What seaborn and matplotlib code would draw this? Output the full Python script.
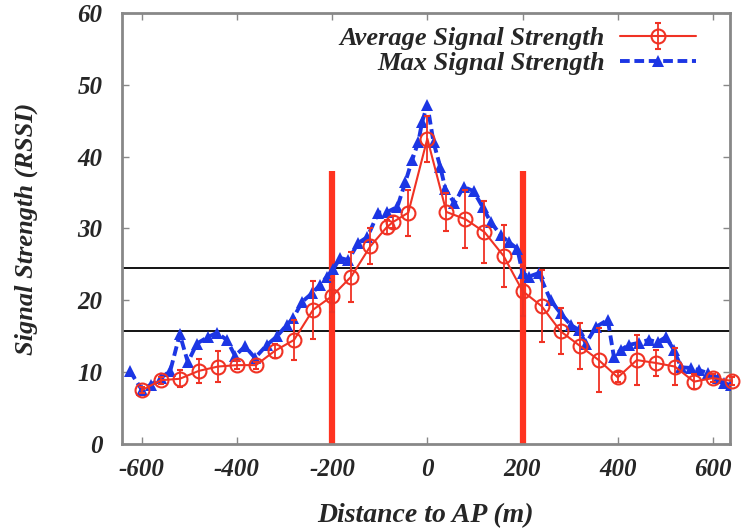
import matplotlib
matplotlib.use("Agg")
import pandas as pd
import matplotlib.pyplot as plt
import seaborn as sns

# average signal strength (every ~40 m) with its spread
avg_x = [-600, -560, -520, -480, -440, -400, -360, -320, -280, -240, -200, -160, -120, -85, -72,
         -40, 0, 40, 80, 120, 160, 200, 240, 280, 320, 360, 400, 440, 480, 520, 560, 600, 640]
avg_y = [7.5, 8.9, 9.1, 10.2, 10.8, 11.0, 11.0, 13.0, 14.5, 18.7, 20.6, 23.3, 27.5, 30.2, 30.9,
         32.2, 42.5, 32.3, 31.3, 29.5, 26.2, 21.3, 19.2, 15.7, 13.7, 11.7, 9.3, 11.7, 11.3, 10.8, 8.7, 9.2, 8.8]
avg_err = [0.4, 0.5, 1.2, 1.7, 2.2, 0.6, 0.5, 1.0, 2.8, 4.0, 2.2, 3.5, 2.5, 1.0, 0.8,
           3.2, 3.2, 2.6, 4.0, 4.3, 4.3, 3.5, 5.0, 3.2, 3.2, 4.5, 0.7, 3.5, 1.8, 2.6, 1.0, 0.6, 0.5]

# max signal strength (every ~20 m)
max_x = [-625, -600, -580, -560, -540, -520, -503, -484, -461, -442, -421, -404, -383, -362, -337,
         -316, -295, -282, -263, -242, -225, -211, -198, -183, -166, -145, -126, -103, -84, -63,
         -46, -32, -19, -11, 0, 13, 27, 38, 57, 76, 97, 116, 133, 154, 171, 189, 200, 213, 234,
         259, 280, 301, 318, 333, 354, 379, 392, 406, 423, 444, 465, 484, 501, 518, 533, 554,
         571, 589, 611, 623, 638]
max_y = [10.2, 7.6, 8.3, 9.2, 10.2, 15.3, 11.4, 14.0, 14.9, 15.5, 14.5, 12.3, 13.6, 12.0, 13.8,
         15.0, 16.6, 17.5, 19.8, 21.0, 22.2, 23.3, 24.3, 25.9, 25.6, 28.0, 28.8, 32.2, 32.3, 33.0,
         36.5, 39.5, 42.0, 44.8, 47.2, 42.0, 38.6, 35.5, 33.5, 35.8, 35.2, 33.0, 30.9, 29.1, 28.1,
         27.2, 23.8, 23.3, 23.8, 20.0, 18.2, 16.6, 15.9, 14.0, 16.3, 17.3, 12.1, 13.1, 13.8, 14.1,
         14.5, 14.2, 14.9, 13.1, 10.7, 10.6, 10.3, 9.9, 9.2, 8.5, 8.2]

# reference lines
boundary_x = [-200, 200]
boundary_top = 38
thresholds = [24.5, 15.7]

xticks = [-600, -400, -200, 0, 200, 400, 600]
yticks = [0, 10, 20, 30, 40, 50, 60]

red = "#f03224"
blue = "#1c36e4"

sns.set_theme(style="white")
plt.rcParams['font.family'] = ['Liberation Serif', 'DejaVu Serif']
plt.rcParams['axes.unicode_minus'] = False

fig, ax = plt.subplots(figsize=(7.42, 5.32), dpi=100)
fig.subplots_adjust(left=0.164, right=0.984, top=0.976, bottom=0.165)

for t in thresholds:
    ax.axhline(t, color="black", lw=1.3, zorder=1)
ax.vlines(boundary_x, 0, boundary_top, color="#ff3320", lw=4.5, zorder=2)

max_df = pd.DataFrame({"Distance": max_x, "RSSI": max_y})
sns.lineplot(data=max_df, x="Distance", y="RSSI", ax=ax, color=blue, lw=2.8,
             linestyle=(0, (2.5, 1.2)), marker="^", markersize=9, markeredgewidth=0,
             zorder=3, label="Max Signal Strength")

ax.errorbar(avg_x, avg_y, yerr=avg_err, color=red, lw=1.5, marker="o", mfc="none",
            ms=10, mew=1.5, capsize=2.5, elinewidth=1.3, zorder=4, clip_on=False,
            label="Average Signal Strength")

ax.set_xlim(-642, 636)
ax.set_ylim(0, 60)
ax.set_xticks(xticks)
ax.set_yticks(yticks)

ax.set_xlabel("Distance to AP (m)", labelpad=16, fontsize=20, fontweight="bold", fontstyle="italic")
ax.set_ylabel("Signal Strength (RSSI)", labelpad=28, fontsize=19, fontweight="bold", fontstyle="italic")
for lab in ax.get_xticklabels() + ax.get_yticklabels():
    lab.set_fontsize(18)
    lab.set_fontweight("bold")
    lab.set_fontstyle("italic")

ax.tick_params(direction="in", length=5, width=1, color="#888888", top=True, right=True,
               bottom=True, left=True)
ax.tick_params(axis="x", pad=10)
ax.tick_params(axis="y", pad=14)
for s in ax.spines.values():
    s.set_color("#888888")
    s.set_linewidth(2)

handles, labels = ax.get_legend_handles_labels()
order = [labels.index("Average Signal Strength"), labels.index("Max Signal Strength")]
ax.legend([handles[i] for i in order], [labels[i] for i in order], loc="upper right",
          bbox_to_anchor=(0.983, 1.023), frameon=False, markerfirst=False, handlelength=2.9,
          handletextpad=0.55, labelspacing=0.05,
          prop=dict(size=19, weight="bold", style="italic"))

fig.savefig("out.png", dpi=100)
